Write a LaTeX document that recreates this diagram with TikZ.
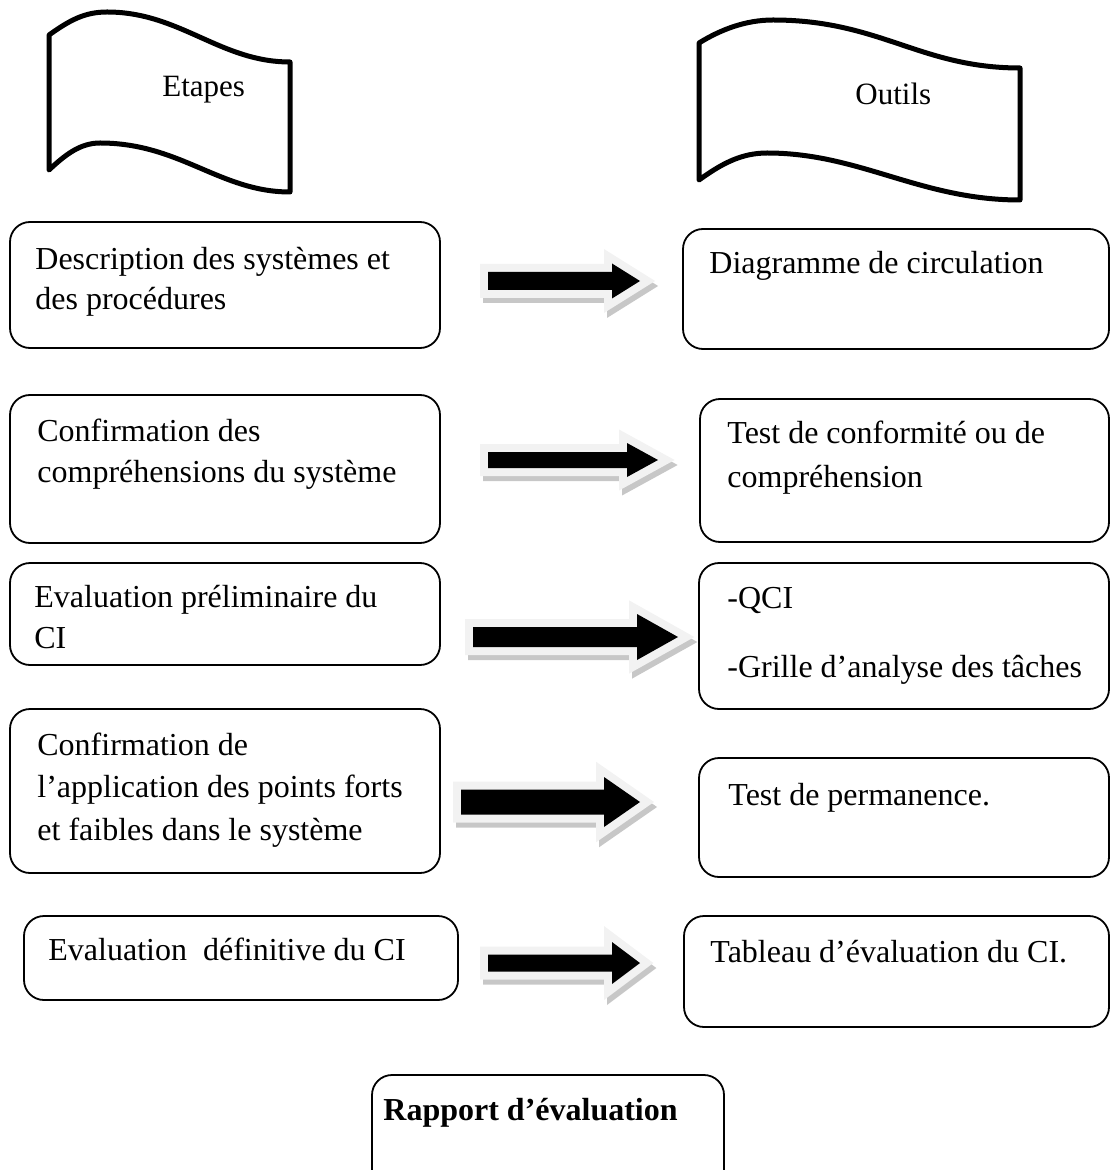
\documentclass[tikz,border=0pt]{standalone}
\usepackage{fontspec}
\setmainfont{Liberation Serif}
\usetikzlibrary{fit}

\tikzset{
  stepbox/.style={draw=black, line width=0.9pt, rounded corners=10pt, inner sep=0pt},
  banner/.style={draw=black, line width=2.5pt, line join=round, fill=white},
  lbl/.style={anchor=base west, inner sep=0pt, font=\fontsize{16}{19}\selectfont},
  head/.style={anchor=base west, inner sep=0pt, font=\fontsize{15.5}{19}\selectfont},
  arrowshadow/.style={fill=black!22, draw=black!22, line width=8pt, miter limit=10},
  arrowrim/.style={fill=black!5, draw=black!5, line width=8pt, miter limit=10},
  arrowcore/.style={fill=black},
}

% block arrow: #1 shaft start, #2 head base, #3 tip, #4 axis, #5 half shaft, #6 half head
\newcommand\blockarrow[6]{%
  \def\arrowoutline{(#1,#4-#5) -- (#2,#4-#5) -- (#2,#4-#6) -- (#3,#4) -- (#2,#4+#6) -- (#2,#4+#5) -- (#1,#4+#5) -- cycle}%
  \filldraw[arrowshadow, shift={(3,5)}] \arrowoutline;
  \filldraw[arrowrim] \arrowoutline;
  \fill[arrowcore] \arrowoutline;
}

\begin{document}
\begin{tikzpicture}[x=0.5pt, y=-0.5pt]
\useasboundingbox (0,0) rectangle (1111,1170);

% banners
\draw[banner] (49,35) .. controls (70,20) and (85,12) .. (107,12)
  .. controls (180,12) and (220,62) .. (290,62) -- (290,192)
  .. controls (220,192) and (180,143) .. (100,143)
  .. controls (80,143) and (65,155) .. (49,170) -- cycle;
\node[head] (etapes) at (162,97) {Etapes};

\draw[banner] (699,43) .. controls (720,30) and (745,20) .. (773,20)
  .. controls (880,20) and (920,68) .. (1020,68) -- (1020,200)
  .. controls (920,200) and (860,153) .. (767,153)
  .. controls (740,153) and (720,165) .. (699,180) -- cycle;
\node[head] (outils) at (855,105) {Outils};

% steps (left column)
\node[stepbox, fit={(10,222) (440,348)}] (e1) {};
\node[lbl] (e1a) at (35,270) {Description des systèmes et};
\node[lbl] (e1b) at (35,310) {des procédures};

\node[stepbox, fit={(10,395) (440,543)}] (e2) {};
\node[lbl] (e2a) at (37,441) {Confirmation des};
\node[lbl] (e2b) at (37,482) {compréhensions du système};

\node[stepbox, fit={(10,563) (440,665)}] (e3) {};
\node[lbl] (e3a) at (34,607) {Evaluation préliminaire du};
\node[lbl] (e3b) at (34,648) {CI};

\node[stepbox, fit={(10,709) (440,873)}] (e4) {};
\node[lbl] (e4a) at (37,755) {Confirmation de};
\node[lbl] (e4b) at (37,797) {l’application des points forts};
\node[lbl] (e4c) at (37,840) {et faibles dans le système};

\node[stepbox, fit={(24,916) (458,1000)}] (e5) {};
\node[lbl] (e5a) at (48,960) {Evaluation\ \ définitive du CI};

% tools (right column)
\node[stepbox, fit={(683,229) (1109,349)}] (t1) {};
\node[lbl] (t1a) at (709,274) {Diagramme de circulation};

\node[stepbox, fit={(700,399) (1109,542)}] (t2) {};
\node[lbl] (t2a) at (727,443) {Test de conformité ou de};
\node[lbl] (t2b) at (727,487) {compréhension};

\node[stepbox, fit={(699,563) (1109,709)}] (t3) {};
\node[lbl] (t3a) at (727,608) {-QCI};
\node[lbl] (t3b) at (727,677) {-Grille d’analyse des tâches};

\node[stepbox, fit={(699,758) (1109,877)}] (t4) {};
\node[lbl] (t4a) at (728,805) {Test de permanence.};

\node[stepbox, fit={(684,916) (1109,1027)}] (t5) {};
\node[lbl] (t5a) at (710,962) {Tableau d’évaluation du CI.};

% final report
\node[stepbox, fit={(372,1075) (724,1190)}] (rap) {};
\node[lbl, font=\fontsize{16}{19}\selectfont\bfseries] (rapa) at (383,1120) {Rapport d’évaluation};

% block arrows
\blockarrow{488}{612}{640}{281}{9}{17.5}
\blockarrow{488}{627}{658}{460}{8}{17}
\blockarrow{473}{637}{678}{637}{10}{23}
\blockarrow{461}{604}{640}{802}{12.5}{25}
\blockarrow{488}{612}{640}{963}{8.5}{21}
\end{tikzpicture}
\end{document}
